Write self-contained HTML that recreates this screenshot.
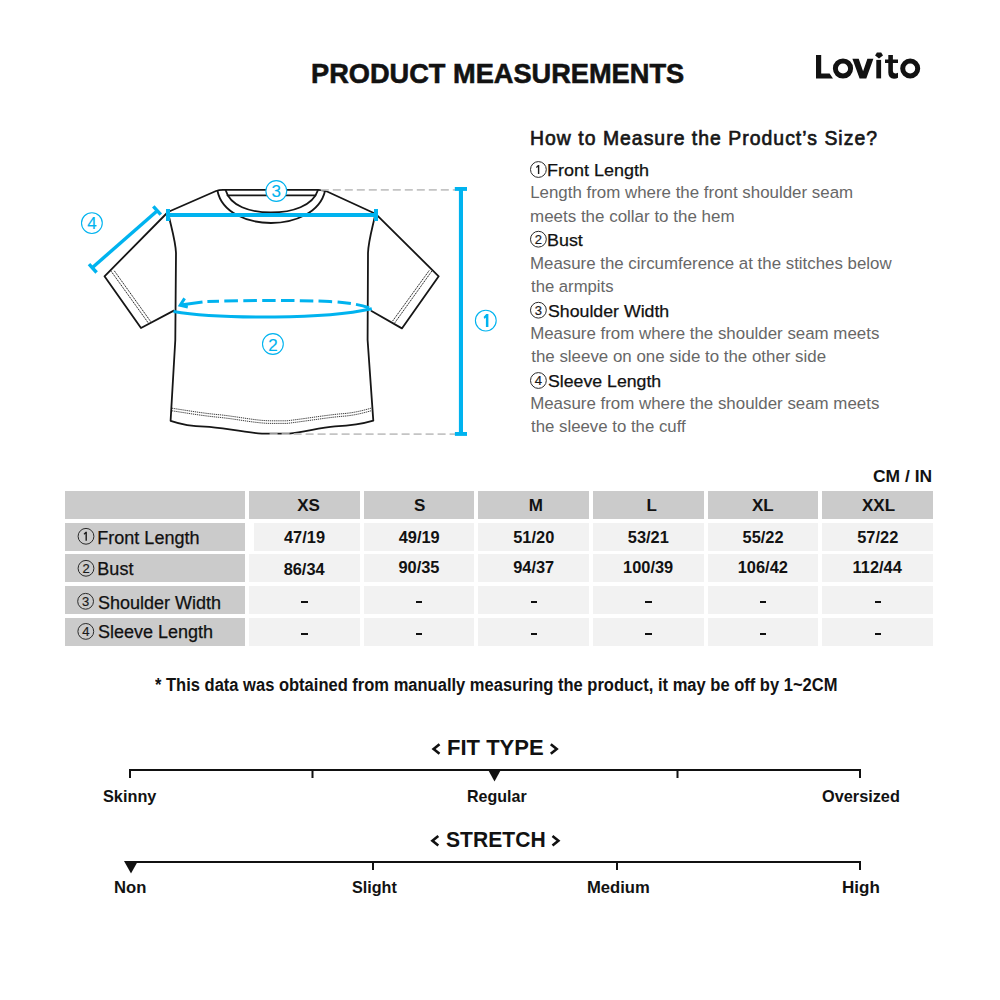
<!DOCTYPE html>
<html><head><meta charset="utf-8"><style>
html,body{margin:0;padding:0;background:#fff;}
body{width:1000px;height:1000px;position:relative;overflow:hidden;font-family:"Liberation Sans",sans-serif;}
.t{position:absolute;white-space:nowrap;line-height:1;transform-origin:0 0;}
.r{position:absolute;}
svg{position:absolute;left:0;top:0;}
</style></head><body>
<div class="r" style="left:65px;top:491px;width:180px;height:28px;background:#cbcbcb"></div><div class="r" style="left:65px;top:523px;width:180px;height:28px;background:#cbcbcb"></div><div class="r" style="left:65px;top:554px;width:180px;height:28px;background:#cbcbcb"></div><div class="r" style="left:65px;top:586px;width:180px;height:28px;background:#cbcbcb"></div><div class="r" style="left:65px;top:618px;width:180px;height:28px;background:#cbcbcb"></div><div class="r" style="left:249.00px;top:491px;width:110.67px;height:28px;background:#cbcbcb"></div><div class="r" style="left:363.67px;top:491px;width:110.67px;height:28px;background:#cbcbcb"></div><div class="r" style="left:478.33px;top:491px;width:110.67px;height:28px;background:#cbcbcb"></div><div class="r" style="left:593.00px;top:491px;width:110.67px;height:28px;background:#cbcbcb"></div><div class="r" style="left:707.67px;top:491px;width:110.67px;height:28px;background:#cbcbcb"></div><div class="r" style="left:822.33px;top:491px;width:110.67px;height:28px;background:#cbcbcb"></div><div class="r" style="left:254.00px;top:523px;width:105.67px;height:28px;background:#f2f2f2"></div><div class="r" style="left:363.67px;top:523px;width:110.67px;height:28px;background:#f2f2f2"></div><div class="r" style="left:478.33px;top:523px;width:110.67px;height:28px;background:#f2f2f2"></div><div class="r" style="left:593.00px;top:523px;width:110.67px;height:28px;background:#f2f2f2"></div><div class="r" style="left:707.67px;top:523px;width:110.67px;height:28px;background:#f2f2f2"></div><div class="r" style="left:822.33px;top:523px;width:110.67px;height:28px;background:#f2f2f2"></div><div class="r" style="left:249.00px;top:554px;width:110.67px;height:28px;background:#f2f2f2"></div><div class="r" style="left:363.67px;top:554px;width:110.67px;height:28px;background:#f2f2f2"></div><div class="r" style="left:478.33px;top:554px;width:110.67px;height:28px;background:#f2f2f2"></div><div class="r" style="left:593.00px;top:554px;width:110.67px;height:28px;background:#f2f2f2"></div><div class="r" style="left:707.67px;top:554px;width:110.67px;height:28px;background:#f2f2f2"></div><div class="r" style="left:822.33px;top:554px;width:110.67px;height:28px;background:#f2f2f2"></div><div class="r" style="left:249.00px;top:586px;width:110.67px;height:28px;background:#f2f2f2"></div><div class="r" style="left:363.67px;top:586px;width:110.67px;height:28px;background:#f2f2f2"></div><div class="r" style="left:478.33px;top:586px;width:110.67px;height:28px;background:#f2f2f2"></div><div class="r" style="left:593.00px;top:586px;width:110.67px;height:28px;background:#f2f2f2"></div><div class="r" style="left:707.67px;top:586px;width:110.67px;height:28px;background:#f2f2f2"></div><div class="r" style="left:822.33px;top:586px;width:110.67px;height:28px;background:#f2f2f2"></div><div class="r" style="left:249.00px;top:618px;width:110.67px;height:28px;background:#f2f2f2"></div><div class="r" style="left:363.67px;top:618px;width:110.67px;height:28px;background:#f2f2f2"></div><div class="r" style="left:478.33px;top:618px;width:110.67px;height:28px;background:#f2f2f2"></div><div class="r" style="left:593.00px;top:618px;width:110.67px;height:28px;background:#f2f2f2"></div><div class="r" style="left:707.67px;top:618px;width:110.67px;height:28px;background:#f2f2f2"></div><div class="r" style="left:822.33px;top:618px;width:110.67px;height:28px;background:#f2f2f2"></div><div class="r" style="left:301.48px;top:600.5px;width:6.3px;height:2.7px;background:#111"></div><div class="r" style="left:416.15px;top:600.5px;width:6.3px;height:2.7px;background:#111"></div><div class="r" style="left:530.82px;top:600.5px;width:6.3px;height:2.7px;background:#111"></div><div class="r" style="left:645.48px;top:600.5px;width:6.3px;height:2.7px;background:#111"></div><div class="r" style="left:760.15px;top:600.5px;width:6.3px;height:2.7px;background:#111"></div><div class="r" style="left:874.82px;top:600.5px;width:6.3px;height:2.7px;background:#111"></div><div class="r" style="left:301.48px;top:632.6px;width:6.3px;height:2.7px;background:#111"></div><div class="r" style="left:416.15px;top:632.6px;width:6.3px;height:2.7px;background:#111"></div><div class="r" style="left:530.82px;top:632.6px;width:6.3px;height:2.7px;background:#111"></div><div class="r" style="left:645.48px;top:632.6px;width:6.3px;height:2.7px;background:#111"></div><div class="r" style="left:760.15px;top:632.6px;width:6.3px;height:2.7px;background:#111"></div><div class="r" style="left:874.82px;top:632.6px;width:6.3px;height:2.7px;background:#111"></div>
<svg width="1000" height="1000" viewBox="0 0 1000 1000">
<g fill="none" stroke="#161616" stroke-width="1.8" stroke-linejoin="round" stroke-linecap="round">
<!-- body outline -->
<path d="M168,212 L216,191 Q219,189.8 223,189.8 L318,189.8 Q323,189.8 327,191.5 L375.4,213.7 L438.7,276.3 L401.9,328.4 L371.5,311"/>
<path d="M168,212 L104.5,276.3 L141,328 L173.8,310.6"/>
<path d="M168,212 C170.5,225 175.5,240 176,253 L175.3,340 L170.6,420.8 C180,424 190,426.3 205,426.6 C220,427 240,432 262,433.6 L289,433.7 C305,432 320,427.5 335,426.4 C350,425.6 362,424 373.3,420.6 L367.6,340 L368,253 C368.5,240 373,226 375.4,213.7"/>
<!-- collar -->
<path d="M217.5,191 C222,213 248,223 271,223 C294,223 320,213 325,191"/>
<path d="M225.6,190 C230,206 250,212.5 271,212.5 C292,212.5 313,206 318,190"/>
<path d="M227.5,195.3 L315.3,195.3"/>
</g>
<g fill="none" stroke="#222" stroke-width="1" stroke-dasharray="1.4 0.7">
<path d="M111.2,271.3 L148.6,323.4"/><path d="M114.3,270.8 L151.2,322.3"/>
<path d="M432,270.8 L394.8,322.8"/><path d="M429.2,270.5 L392.2,321.6"/>
</g>
<g fill="none" stroke="#333" stroke-width="0.95" stroke-dasharray="1.3 0.8">
<path d="M172,408.2 C190,411 205,413.5 220,414.8 C240,417 255,420.5 270,420.8 L287,420.8 C310,418 330,414.5 345,413.5 C355,412.5 363,410.5 371,408.2"/>
<path d="M172,410.8 C190,413.6 205,416.1 220,417.4 C240,419.6 255,423.1 270,423.4 L287,423.4 C310,420.6 330,417.1 345,416.1 C355,415.1 363,413.1 371,410.8"/>
</g>
<!-- gray dashed guide lines -->
<g stroke="#c4c4c4" stroke-width="1.7" stroke-dasharray="8 4">
<path d="M320.8,189.9 L455,189.9"/>
<path d="M269.6,434.1 L455,434.1"/>
</g>
<!-- blue measures -->
<g fill="#00b3ef" stroke="none">
<rect x="167" y="213" width="210" height="4"/>
<rect x="166" y="209" width="4" height="12"/>
<rect x="374" y="209" width="4" height="12"/>
<rect x="458.9" y="189" width="4.1" height="245"/>
<rect x="454.8" y="187" width="12.2" height="3.9"/>
<rect x="454.9" y="432" width="12.1" height="3.9"/>
</g>
<g stroke="#00b3ef" fill="none" stroke-width="3.4">
<path d="M157,211 L92.8,267.2"/>
<path d="M153.3,206.3 L160.8,214.6"/>
<path d="M89,264.1 L96.6,272.5"/>
</g>
<g stroke="#00b3ef" fill="none" stroke-width="3">
<path d="M173.5,311.4 C200,316 240,317.2 275,317 C315,316.6 350,313.5 371.8,308.7"/>
<path d="M371.8,308.7 C362,305 350,302.6 330,301.6 C300,300 250,300.2 207.4,301.6" stroke-dasharray="13.5 5.3" stroke-dashoffset="-3"/>
<path d="M180.5,305 L202.5,302.1"/>
<path d="M184.6,298.4 L180.2,305.3 L187.8,307" stroke-linejoin="miter"/>
</g>
<!-- blue circles -->
<g stroke="#00b3ef" stroke-width="1.1" fill="#fff">
<circle cx="485.8" cy="320.6" r="10.4"/>
<circle cx="272.9" cy="344" r="10.4"/>
<circle cx="276.3" cy="191" r="10.4"/>
<circle cx="91.9" cy="223.1" r="10.4"/>
</g>
<g fill="#00b3ef" stroke="#00b3ef" stroke-width="0.15" font-family="Liberation Sans" font-size="17" text-anchor="middle">
<text x="272.9" y="350.6">2</text>
<text x="276.3" y="197.3">3</text>
<text x="91.9" y="229.4">4</text>
</g>
<path d="M483.6,316.9 L486.2,314 L488.4,314 L488.4,327 L485.9,327 L485.9,317.6 L484.6,318.9 Z" fill="#00b3ef"/>
<!-- black small circles -->
<g stroke="#2a2a2a" stroke-width="1" fill="none">
<circle cx="538.4" cy="169.5" r="7.9"/>
<circle cx="538.4" cy="239.2" r="7.9"/>
<circle cx="538.4" cy="310.2" r="7.9"/>
<circle cx="538.4" cy="380.5" r="7.9"/>
<circle cx="86" cy="536.3" r="7.9"/>
<circle cx="86" cy="568.3" r="7.9"/>
<circle cx="85.6" cy="601.3" r="7.9"/>
<circle cx="85.8" cy="631.4" r="7.9"/>
</g>
<g fill="#1a1a1a" stroke="#1a1a1a" stroke-width="0.2" font-family="Liberation Sans" font-size="13" text-anchor="middle">
<path d="M536.00,166.90 L538.00,164.90 L539.30,164.90 L539.30,174.00 L537.90,174.00 L537.90,167.00 L536.60,167.90 Z" stroke="none"/>
<text x="538.4" y="243.80">2</text>
<text x="538.4" y="314.80">3</text>
<text x="538.4" y="385.10">4</text>
<path d="M83.60,533.70 L85.60,531.70 L86.90,531.70 L86.90,540.80 L85.50,540.80 L85.50,533.80 L84.20,534.70 Z" stroke="none"/>
<text x="86" y="572.90">2</text>
<text x="85.6" y="605.90">3</text>
<text x="85.8" y="636.00">4</text>
</g>
<!-- logo -->
<g fill="#121212">
<path d="M816,55 H821.2 V73.5 H829.6 L833,78.6 H816 Z"/>
<path d="M852.4,58.8 H858.7 L863.1,71.2 L867.4,58.8 H873.4 L866.3,78.4 H859.6 Z"/>
<rect x="876.3" y="59.9" width="4.8" height="18.5"/>
<path d="M875.1,55.4 L876.9,52.4 H881.2 L883,55.4 L879,58.4 Z"/>
<path d="M888.3,55 H892.9 V59.5 H898 V63 H892.9 V71 Q892.9,73.4 895.3,73.4 Q896.8,73.4 898,72.7 V77.7 Q896.5,78.7 894,78.7 Q888.3,78.7 888.3,72.6 V63 H885 V59.5 H888.3 Z"/>
</g>
<g fill="none" stroke="#121212" stroke-width="5">
<circle cx="843" cy="68.5" r="7.6"/>
<circle cx="910.2" cy="68.5" r="7.5"/>
</g>
<!-- chevrons -->
<g fill="none" stroke="#111" stroke-width="2.6" stroke-linecap="butt" stroke-linejoin="miter">
<path d="M439.5,744.2 L433.6,749 L439.5,753.8"/>
<path d="M550.8,744.2 L556.7,749 L550.8,753.8"/>
<path d="M438.3,836 L432.4,840.8 L438.3,845.6"/>
<path d="M552.5,836 L558.4,840.8 L552.5,845.6"/>
</g>
<!-- rulers -->
<g fill="#111">
<rect x="129" y="769" width="732" height="2"/>
<rect x="129" y="769" width="2" height="9"/>
<rect x="311.5" y="769" width="2" height="9"/>
<rect x="676.5" y="769" width="2" height="9"/>
<rect x="859" y="769" width="2" height="9"/>
<path d="M488.2,770 L500.8,770 L494.5,781.5 Z"/>
<rect x="130" y="861" width="731" height="2"/>
<rect x="372" y="861" width="2" height="9"/>
<rect x="616" y="861" width="2" height="9"/>
<rect x="859" y="861" width="2" height="9"/>
<path d="M124,861 L138,861 L131,873.5 Z"/>
</g>
</svg>

<div class="t" style="left:311.03px;top:58.68px;font-size:28.49px;font-weight:700;color:#121212;transform:scaleX(0.9546);-webkit-text-stroke:0.6px #121212;">PRODUCT MEASUREMENTS</div><div class="t" style="left:530.45px;top:128.01px;font-size:20.78px;font-weight:400;color:#161616;transform:scaleX(0.9332);-webkit-text-stroke:0.7px #161616;letter-spacing:1.1px;">How to Measure the Product’s Size?</div><div class="t" style="left:547.26px;top:162.17px;font-size:17.40px;font-weight:400;color:#111;transform:scaleX(1.0340);-webkit-text-stroke:0.25px #111;">Front Length</div><div class="t" style="left:547.27px;top:232.37px;font-size:17.40px;font-weight:400;color:#111;transform:scaleX(1.0294);-webkit-text-stroke:0.25px #111;">Bust</div><div class="t" style="left:547.90px;top:302.57px;font-size:17.40px;font-weight:400;color:#111;transform:scaleX(1.0195);-webkit-text-stroke:0.25px #111;">Shoulder Width</div><div class="t" style="left:547.90px;top:372.77px;font-size:17.40px;font-weight:400;color:#111;transform:scaleX(1.0177);-webkit-text-stroke:0.25px #111;">Sleeve Length</div><div class="t" style="left:530.15px;top:185.49px;font-size:16.90px;font-weight:400;color:#676767;">Length from where the front shoulder seam</div><div class="t" style="left:530.40px;top:208.89px;font-size:16.90px;font-weight:400;color:#676767;transform:scaleX(1.0040);">meets the collar to the hem</div><div class="t" style="left:530.15px;top:255.69px;font-size:16.90px;font-weight:400;color:#676767;transform:scaleX(0.9977);">Measure the circumference at the stitches below</div><div class="t" style="left:531.25px;top:279.09px;font-size:16.90px;font-weight:400;color:#676767;transform:scaleX(0.9876);">the armpits</div><div class="t" style="left:530.15px;top:325.89px;font-size:16.90px;font-weight:400;color:#676767;">Measure from where the shoulder seam meets</div><div class="t" style="left:531.25px;top:349.29px;font-size:16.90px;font-weight:400;color:#676767;">the sleeve on one side to the other side</div><div class="t" style="left:530.15px;top:396.09px;font-size:16.90px;font-weight:400;color:#676767;">Measure from where the shoulder seam meets</div><div class="t" style="left:531.25px;top:419.49px;font-size:16.90px;font-weight:400;color:#676767;transform:scaleX(0.9942);">the sleeve to the cuff</div><div class="t" style="left:872.50px;top:468.08px;font-size:17.15px;font-weight:700;color:#121212;transform:scaleX(1.0168);">CM / IN</div><div class="t" style="left:297.21px;top:497.01px;font-size:17.00px;font-weight:700;color:#121212;">XS</div><div class="t" style="left:413.99px;top:497.01px;font-size:17.00px;font-weight:700;color:#121212;">S</div><div class="t" style="left:528.84px;top:497.01px;font-size:17.00px;font-weight:700;color:#121212;">M</div><div class="t" style="left:646.52px;top:497.01px;font-size:17.00px;font-weight:700;color:#121212;">L</div><div class="t" style="left:751.93px;top:497.01px;font-size:17.00px;font-weight:700;color:#121212;">XL</div><div class="t" style="left:862.04px;top:497.01px;font-size:17.00px;font-weight:700;color:#121212;">XXL</div><div class="t" style="left:284.00px;top:529.12px;font-size:16.40px;font-weight:700;color:#121212;">47/19</div><div class="t" style="left:398.66px;top:529.12px;font-size:16.40px;font-weight:700;color:#121212;">49/19</div><div class="t" style="left:513.25px;top:529.12px;font-size:16.40px;font-weight:700;color:#121212;">51/20</div><div class="t" style="left:627.79px;top:529.12px;font-size:16.40px;font-weight:700;color:#121212;">53/21</div><div class="t" style="left:742.58px;top:529.12px;font-size:16.40px;font-weight:700;color:#121212;">55/22</div><div class="t" style="left:857.25px;top:529.12px;font-size:16.40px;font-weight:700;color:#121212;">57/22</div><div class="t" style="left:283.63px;top:561.12px;font-size:16.40px;font-weight:700;color:#121212;">86/34</div><div class="t" style="left:398.42px;top:559.12px;font-size:16.40px;font-weight:700;color:#121212;">90/35</div><div class="t" style="left:513.21px;top:559.12px;font-size:16.40px;font-weight:700;color:#121212;">94/37</div><div class="t" style="left:623.04px;top:559.12px;font-size:16.40px;font-weight:700;color:#121212;">100/39</div><div class="t" style="left:737.74px;top:559.12px;font-size:16.40px;font-weight:700;color:#121212;">106/42</div><div class="t" style="left:852.62px;top:559.12px;font-size:16.40px;font-weight:700;color:#121212;">112/44</div><div class="t" style="left:97.36px;top:528.76px;font-size:18.00px;font-weight:400;color:#111;-webkit-text-stroke:0.25px #111;">Front Length</div><div class="t" style="left:97.36px;top:560.26px;font-size:18.00px;font-weight:400;color:#111;-webkit-text-stroke:0.25px #111;">Bust</div><div class="t" style="left:97.99px;top:593.56px;font-size:18.00px;font-weight:400;color:#111;-webkit-text-stroke:0.25px #111;">Shoulder Width</div><div class="t" style="left:97.99px;top:623.16px;font-size:18.00px;font-weight:400;color:#111;-webkit-text-stroke:0.25px #111;">Sleeve Length</div><div class="t" style="left:154.92px;top:677.04px;font-size:17.44px;font-weight:700;color:#121212;transform:scaleX(0.9473);">* This data was obtained from manually measuring the product, it may be off by 1~2CM</div><div class="t" style="left:446.57px;top:737.15px;font-size:22.38px;font-weight:700;color:#121212;transform:scaleX(0.9842);">FIT TYPE</div><div class="t" style="left:445.77px;top:828.75px;font-size:22.38px;font-weight:700;color:#121212;transform:scaleX(0.9428);">STRETCH</div><div class="t" style="left:103.11px;top:788.77px;font-size:16.57px;font-weight:700;color:#121212;transform:scaleX(0.9838);">Skinny</div><div class="t" style="left:466.96px;top:788.77px;font-size:16.57px;font-weight:700;color:#121212;transform:scaleX(0.9669);">Regular</div><div class="t" style="left:821.85px;top:788.77px;font-size:16.57px;font-weight:700;color:#121212;transform:scaleX(0.9837);">Oversized</div><div class="t" style="left:114.02px;top:880.37px;font-size:16.57px;font-weight:700;color:#121212;transform:scaleX(1.0047);">Non</div><div class="t" style="left:352.32px;top:880.37px;font-size:16.57px;font-weight:700;color:#121212;transform:scaleX(0.9753);">Slight</div><div class="t" style="left:587.12px;top:880.37px;font-size:16.57px;font-weight:700;color:#121212;transform:scaleX(1.0039);">Medium</div><div class="t" style="left:841.89px;top:880.37px;font-size:16.57px;font-weight:700;color:#121212;transform:scaleX(1.0284);">High</div>
</body></html>
